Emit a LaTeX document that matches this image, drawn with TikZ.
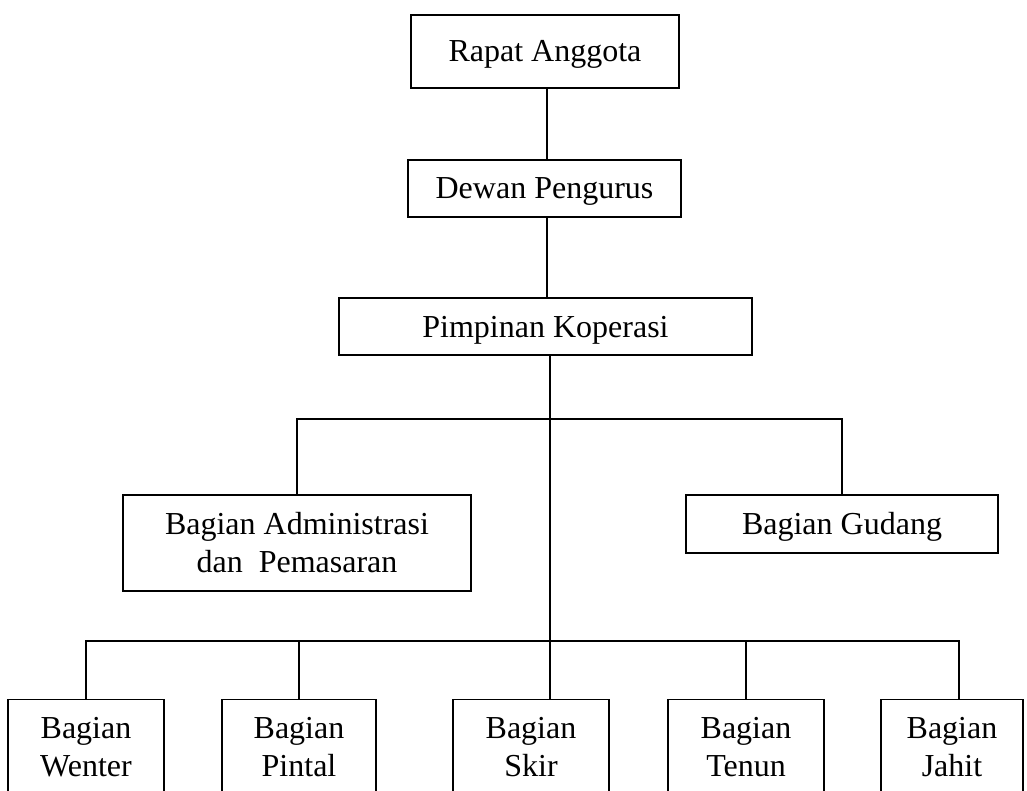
\documentclass[tikz,border=0pt]{standalone}
\usepackage{fontspec}
\setmainfont{Liberation Serif}
\usetikzlibrary{positioning}

\begin{document}
\begin{tikzpicture}[x=1pt, y=-1pt,
        box/.style={rectangle,draw,line width=1.4pt,inner sep=0pt,align=center,
          font=\fontsize{32}{38}\selectfont},
        onerow/.style={box,text height=27pt,text depth=6pt},
        unit/.style={box,anchor=north,minimum width=156pt,minimum height=94pt},
        link/.style={line width=1.4pt}]
        \clip (0,0) rectangle (1027,791);
        % top of the chart
        \node[onerow,minimum width=268pt,minimum height=73pt] (rapat) at (545,51.5) {Rapat Anggota};
        \node[onerow,minimum width=273pt,minimum height=57pt] (dewan) at (544.5,188.5) {Dewan Pengurus};
        \node[onerow,minimum width=413pt,minimum height=57pt] (pimpinan) at (545.5,326.5) {Pimpinan Koperasi};
        % staff
        \node[box,minimum width=348pt,minimum height=96pt] (adm) at (297,543) {Bagian Administrasi\\dan~ Pemasaran};
        \node[onerow,minimum width=312pt,minimum height=58pt] (gudang) at (842,524) {Bagian Gudang};
        % production units
        \node[unit] (wenter) at (86,699) {Bagian\\Wenter};
        \node[unit,minimum width=154pt] (pintal) at (299,699) {Bagian\\Pintal};
        \node[unit] (skir) at (531,699) {Bagian\\Skir};
        \node[unit] (tenun) at (746,699) {Bagian\\Tenun};
        \node[unit,minimum width=142pt] (jahit) at (952,699) {Bagian\\Jahit};
        \coordinate (spine) at (547,0);
        \coordinate (hub1) at (550,419);
        \coordinate (hub2) at (550,641);
        \draw[link] (rapat.south -| spine) -- (dewan.north -| spine);
        \draw[link] (dewan.south -| spine) -- (pimpinan.north -| spine);
        \draw[link] (pimpinan.south -| hub1) -- (skir.north -| hub1);
        \draw[link] (adm.north) |- (hub1) -| (gudang.north);
        \draw[link] (wenter.north) |- (hub2) -| ([xshift=7pt]jahit.north);
        \draw[link] (pintal.north) -- (pintal.north |- hub2);
        \draw[link] (tenun.north) -- (tenun.north |- hub2);
      \end{tikzpicture}
\end{document}
